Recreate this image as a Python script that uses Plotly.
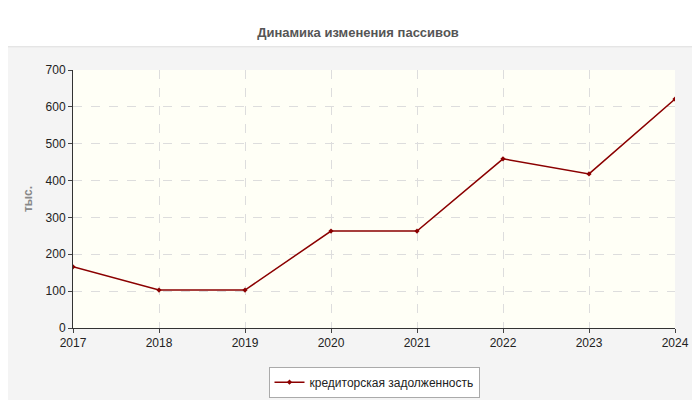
import plotly.graph_objects as go

years = [2017, 2018, 2019, 2020, 2021, 2022, 2023, 2024]
values = [166, 103, 103, 263, 263, 459, 418, 621]
series_name = "кредиторская задолженность"

fig = go.Figure()
fig.add_trace(go.Scatter(x=years, y=values, name=series_name, mode="lines+markers",
                         line=dict(color="#8b0000", width=1.5),
                         marker=dict(size=4, color="#8b0000", symbol="diamond")))
fig.update_layout(
    width=700, height=400, paper_bgcolor="white", plot_bgcolor="#fffff6",
    margin=dict(l=65, r=33, t=62, b=80, autoexpand=False),
    title=dict(text="<b>Динамика изменения пассивов</b>", x=0.5, y=0.95, xanchor="center",
               font=dict(family="Liberation Sans, Arial", size=13, color="#555")),
    font=dict(family="Liberation Sans, Arial", size=12, color="#222"),
    xaxis=dict(range=[2017, 2024], tickvals=years, showgrid=True, gridcolor="#ddd", griddash="dash",
               showline=True, linecolor="#333", ticks="outside", ticklen=4, zeroline=False,
               automargin=False),
    yaxis=dict(range=[0, 700], dtick=100, showgrid=True, gridcolor="#ddd", griddash="dash",
               showline=True, linecolor="#333", ticks="outside", ticklen=4, zeroline=False,
               automargin=False,
               title=dict(text="<b>тыс.</b>", font=dict(size=12, color="#888"), standoff=10)),
    showlegend=True,
    legend=dict(orientation="h", x=0.5, xanchor="center", y=-0.15, yanchor="top",
                bordercolor="#aaa", borderwidth=1, bgcolor="white", font=dict(size=12)),
    shapes=[dict(type="rect", xref="paper", yref="paper", x0=-0.245, x1=1.05, y0=-0.29, y1=1.09,
                 fillcolor="#f4f4f4", line=dict(color="#ddd", width=1), layer="below"),
            dict(type="rect", xref="paper", yref="paper", x0=0, x1=1, y0=0, y1=1,
                 fillcolor="#fffff6", line=dict(width=0), layer="below")],
)
fig.write_html("out.html")
